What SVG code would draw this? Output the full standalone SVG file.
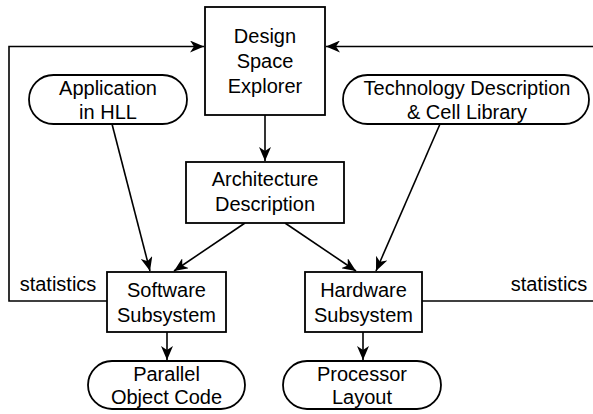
<svg xmlns="http://www.w3.org/2000/svg" width="593" height="414" viewBox="0 0 593 414">
<style>
.box{fill:#fff;stroke:#000;stroke-width:1.8}
.t{font-family:"Liberation Sans",Arial,sans-serif;font-size:20px;text-anchor:middle;fill:#000}
.c{fill:none;stroke:#000;stroke-width:1.6}
</style>
<defs>
<marker id="ah" markerUnits="userSpaceOnUse" markerWidth="16" markerHeight="12" refX="14" refY="6" orient="auto">
<path d="M0,0 L14,6 L0,12 L4,6 z" fill="#000"/>
</marker>
</defs>
<rect width="593" height="414" fill="#fff"/>
<g id="connectors">
<path class="c" d="M107,301 H9 V46.5 H204" marker-end="url(#ah)"/>
<path class="c" d="M593,46.5 H326" marker-end="url(#ah)"/>
<path class="c" d="M422,301 H593"/>
<path class="c" d="M265,115 V161" marker-end="url(#ah)"/>
<path class="c" d="M112,124 L150,271" marker-end="url(#ah)"/>
<path class="c" d="M245,223 L174,271" marker-end="url(#ah)"/>
<path class="c" d="M285,223 L356,271" marker-end="url(#ah)"/>
<path class="c" d="M440,124 L376,271" marker-end="url(#ah)"/>
<path class="c" d="M167,332 V360" marker-end="url(#ah)"/>
<path class="c" d="M363,332 V360" marker-end="url(#ah)"/>
<text class="t" x="58" y="291">statistics</text>
<text class="t" x="549" y="291">statistics</text>
</g>
<g id="explorer">
<rect class="box" x="205" y="7" width="120" height="108"/>
<text class="t" x="265" y="43">Design</text>
<text class="t" x="265" y="68">Space</text>
<text class="t" x="265" y="93">Explorer</text>
</g>
<g id="application">
<rect class="box" x="29" y="75" width="158" height="49" rx="24.5"/>
<text class="t" x="108" y="95">Application</text>
<text class="t" x="108" y="119">in HLL</text>
</g>
<g id="technology">
<rect class="box" x="343" y="75" width="246" height="49" rx="24.5"/>
<text class="t" x="467" y="95">Technology Description</text>
<text class="t" x="467" y="119">&amp; Cell Library</text>
</g>
<g id="architecture">
<rect class="box" x="186" y="162" width="158" height="61"/>
<text class="t" x="265" y="186">Architecture</text>
<text class="t" x="265" y="211">Description</text>
</g>
<g id="software">
<rect class="box" x="107" y="272" width="119" height="60"/>
<text class="t" x="166.5" y="297">Software</text>
<text class="t" x="166.5" y="322">Subsystem</text>
</g>
<g id="hardware">
<rect class="box" x="305" y="272" width="117" height="60"/>
<text class="t" x="363.5" y="297">Hardware</text>
<text class="t" x="363.5" y="322">Subsystem</text>
</g>
<g id="parallel">
<rect class="box" x="88" y="361" width="157" height="48" rx="24"/>
<text class="t" x="166.5" y="381">Parallel</text>
<text class="t" x="166.5" y="404">Object Code</text>
</g>
<g id="processor">
<rect class="box" x="283" y="361" width="158" height="48" rx="24"/>
<text class="t" x="362" y="381">Processor</text>
<text class="t" x="362" y="404">Layout</text>
</g>
</svg>
